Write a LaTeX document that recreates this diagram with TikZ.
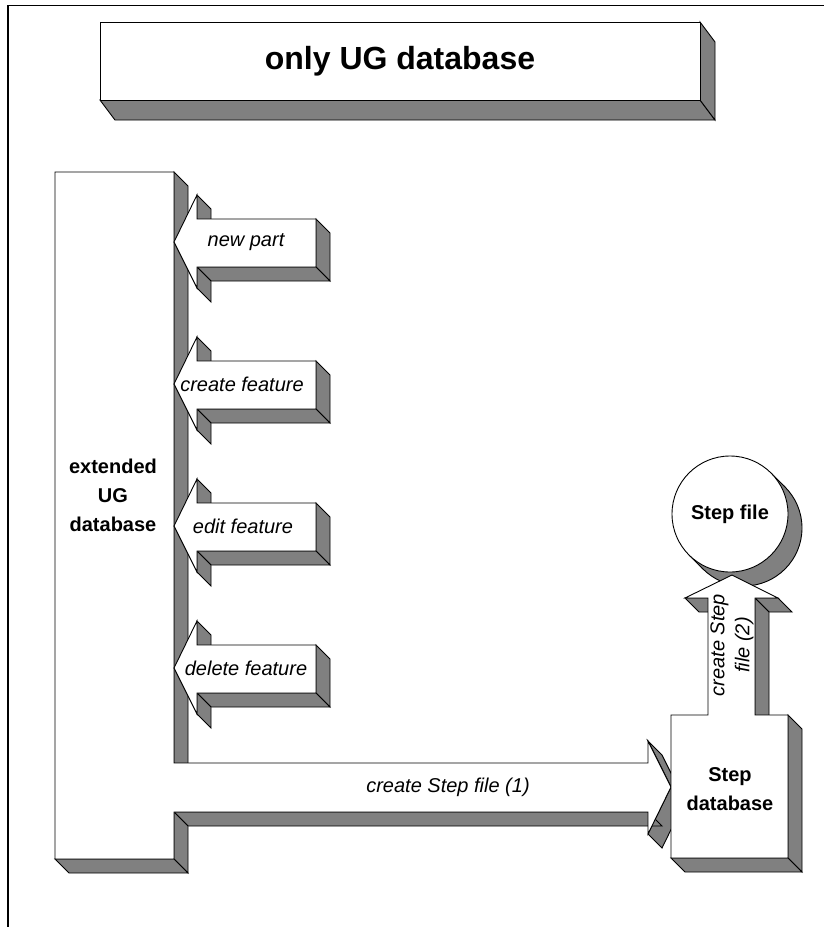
\documentclass[tikz,border=0pt]{standalone}
\usepackage{fontspec}
\setmainfont{Liberation Sans}
\usepackage{tikz}
\newcommand{\shadecolor}{gray}
\newcommand{\edgewidth}{0.9pt}
\tikzset{
  side face/.style={fill=\shadecolor, draw=black, line width=\edgewidth},
  front face/.style={fill=white, draw=black, line width=\edgewidth},
  label text/.style={font=\fontsize{20}{25}\selectfont\itshape, align=center},
  box text/.style={font=\fontsize{20}{29}\selectfont\bfseries, align=center},
}

\begin{document}
\begin{tikzpicture}[x=1pt, y=-1pt]
\useasboundingbox (0,0) rectangle (824,927);
\draw[line width=1.8pt] (8,927) -- (8,5.5) -- (824,5.5);
%only UG database
\draw[side face] (100,100) -- (700,100) -- (715,120) -- (115,120) -- cycle;
\draw[side face] (700,22) -- (715,42) -- (715,120) -- (700,100) -- cycle;
\draw[front face] (100,22) rectangle (700,100);
\node[font=\fontsize{32}{36}\selectfont\bfseries] (title) at (400,61) {only UG database};
%extended UG database + create Step file (1)
\draw[side face] (174,172) -- (188,186) -- (188,777) -- (174,763) -- cycle;
\draw[side face] (648,741) -- (662,755) -- (685,801) -- (671,787) -- cycle;
\draw[side face] (671,787) -- (685,801) -- (662,848) -- (648,834) -- cycle;
\draw[side face] (174,812) -- (648,812) -- (662,826) -- (188,826) -- cycle;
\draw[side face] (174,812) -- (188,826) -- (188,873) -- (174,859) -- cycle;
\draw[side face] (55,859) -- (174,859) -- (188,873) -- (69,873) -- cycle;
\draw[front face] (55,172) -- (174,172) -- (174,763) -- (648,763) -- (648,741) -- (671,787)
  -- (648,834) -- (648,812) -- (174,812) -- (174,859) -- (55,859) -- cycle;
\node[box text] (extended) at (113,495) {extended\\UG\\database};
\node[label text] (createstep) at (448,787) {create Step file (1)};
%new part
\begin{scope}[shift={(0,242)}]
\draw[side face] (197,-47) -- (211,-33) -- (211,-9) -- (197,-23) -- cycle;
\draw[side face] (316,-23) -- (330,-9) -- (330,39) -- (316,25) -- cycle;
\draw[side face] (197,25) -- (316,25) -- (330,39) -- (211,39) -- cycle;
\draw[side face] (197,25) -- (211,39) -- (211,60) -- (197,46) -- cycle;
\draw[front face] (174,0) -- (197,-47) -- (197,-23) -- (316,-23) -- (316,25) -- (197,25) -- (197,46) -- cycle;
\node[label text] (newpart) at (246,0) {new part};
\end{scope}
%create feature
\begin{scope}[shift={(0,384)}]
\draw[side face] (197,-47) -- (211,-33) -- (211,-9) -- (197,-23) -- cycle;
\draw[side face] (316,-23) -- (330,-9) -- (330,39) -- (316,25) -- cycle;
\draw[side face] (197,25) -- (316,25) -- (330,39) -- (211,39) -- cycle;
\draw[side face] (197,25) -- (211,39) -- (211,60) -- (197,46) -- cycle;
\draw[front face] (174,0) -- (197,-47) -- (197,-23) -- (316,-23) -- (316,25) -- (197,25) -- (197,46) -- cycle;
\node[label text] (createfeature) at (242,0) {create feature};
\end{scope}
%edit feature
\begin{scope}[shift={(0,526)}]
\draw[side face] (197,-47) -- (211,-33) -- (211,-9) -- (197,-23) -- cycle;
\draw[side face] (316,-23) -- (330,-9) -- (330,39) -- (316,25) -- cycle;
\draw[side face] (197,25) -- (316,25) -- (330,39) -- (211,39) -- cycle;
\draw[side face] (197,25) -- (211,39) -- (211,60) -- (197,46) -- cycle;
\draw[front face] (174,0) -- (197,-47) -- (197,-23) -- (316,-23) -- (316,25) -- (197,25) -- (197,46) -- cycle;
\node[label text] (editfeature) at (243,0) {edit feature};
\end{scope}
%delete feature
\begin{scope}[shift={(0,668)}]
\draw[side face] (197,-47) -- (211,-33) -- (211,-9) -- (197,-23) -- cycle;
\draw[side face] (316,-23) -- (330,-9) -- (330,39) -- (316,25) -- cycle;
\draw[side face] (197,25) -- (316,25) -- (330,39) -- (211,39) -- cycle;
\draw[side face] (197,25) -- (211,39) -- (211,60) -- (197,46) -- cycle;
\draw[front face] (174,0) -- (197,-47) -- (197,-23) -- (316,-23) -- (316,25) -- (197,25) -- (197,46) -- cycle;
\node[label text] (deletefeature) at (246,0) {delete feature};
\end{scope}
%Step file
\draw[side face] (744,528) circle (58);
\fill[\shadecolor] (771,473) -- (785,487) -- (703,569) -- (689,555) -- cycle;
\draw[line width=\edgewidth] (771,473) -- (785,487);
\draw[line width=\edgewidth] (689,555) -- (703,569);
\node[circle, front face, minimum size=116pt, inner sep=0pt, box text] (stepfile) at (730,514) {Step file};
%Step database + create Step file (2)
\draw[side face] (685,598) -- (708,598) -- (722,612) -- (699,612) -- cycle;
\draw[side face] (755,598) -- (778,598) -- (792,612) -- (769,612) -- cycle;
\draw[side face] (755,598) -- (769,612) -- (769,729) -- (755,715) -- cycle;
\draw[side face] (788,715) -- (802,729) -- (802,872) -- (788,858) -- cycle;
\draw[side face] (671,858) -- (788,858) -- (802,872) -- (685,872) -- cycle;
\draw[front face] (671,715) -- (708,715) -- (708,598) -- (685,598) -- (732,575) -- (778,598)
  -- (755,598) -- (755,715) -- (788,715) -- (788,858) -- (671,858) -- cycle;
\node[box text] (stepdb) at (730,789) {Step\\database};
\node[label text, rotate=90] (createstepfile) at (732,645) {create Step\\file (2)};
\end{tikzpicture}
\end{document}
